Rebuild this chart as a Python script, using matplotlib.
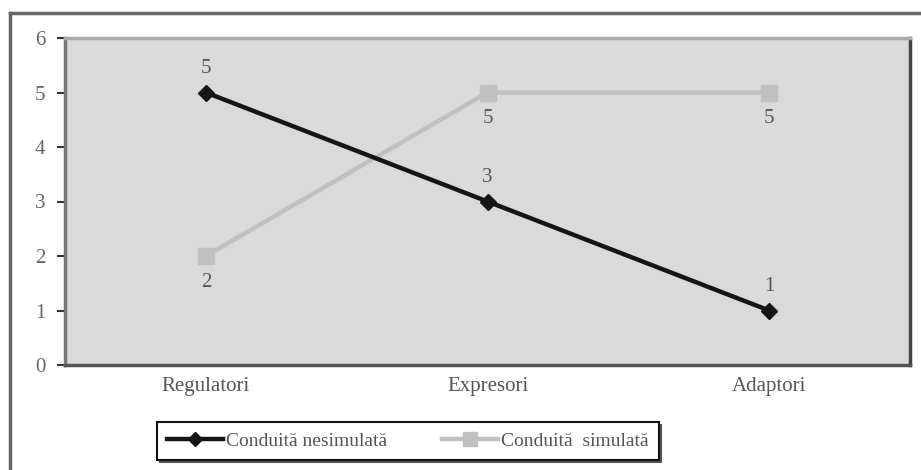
import matplotlib.pyplot as plt
from matplotlib.lines import Line2D

categories = ["Regulatori", "Expresori", "Adaptori"]
nesimulata = [5, 3, 1]
simulata = [2, 5, 5]
series_names = ["Conduită nesimulată", "Conduită  simulată"]
yticks = [0, 1, 2, 3, 4, 5, 6]

plt.rcParams['font.family'] = ['Liberation Serif', 'DejaVu Serif']

W, H = 921, 470
fig = plt.figure(figsize=(W / 100, H / 100), dpi=100)
ax = fig.add_axes([65 / W, 1 - 365 / H, (910 - 65) / W, (365 - 38) / H])
ax.set_facecolor('#dadada')

x = list(range(len(categories)))
ax.plot(x, simulata, color='#c0c0c0', lw=3.2, marker='s', ms=12, zorder=3)
ax.plot(x, nesimulata, color='#151515', lw=3.2, marker='D', ms=8, zorder=4)

for xi, v in zip(x, nesimulata):
    ax.annotate(str(v), (xi, v), xytext=(0, 17), textcoords='offset points',
                ha='center', va='center', fontsize=15, color='#555555')
for xi, v in zip(x, simulata):
    ax.annotate(str(v), (xi, v), xytext=(0, -19), textcoords='offset points',
                ha='center', va='center', fontsize=15, color='#555555')

ax.set_xlim(-0.5, 2.5)
ax.set_ylim(0, 6)
ax.set_yticks(yticks)
ax.set_xticks(x)
ax.set_xticklabels(categories)
ax.tick_params(axis='y', direction='out', length=6, width=1.5, color='#333333',
               labelsize=15, labelcolor='#666666', pad=8)
ax.tick_params(axis='x', length=0, labelsize=15, labelcolor='#555555', pad=9)

ax.spines['left'].set_color('#777777')
ax.spines['left'].set_linewidth(2.5)
ax.spines['bottom'].set_color('#555555')
ax.spines['bottom'].set_linewidth(2.5)
ax.spines['top'].set_color('#aaaaaa')
ax.spines['top'].set_linewidth(2.5)
ax.spines['right'].set_color('#444444')
ax.spines['right'].set_linewidth(2.5)

# outer frame of the picture
fig.add_artist(Line2D([10 / W, 1.0], [1 - 13 / H, 1 - 13 / H], color='#666666', lw=2.5))
fig.add_artist(Line2D([10 / W, 10 / W], [0, 1 - 13 / H], color='#666666', lw=2.5))

handles = [Line2D([], [], color='#151515', lw=3.2, marker='D', ms=7),
           Line2D([], [], color='#c0c0c0', lw=3.2, marker='s', ms=10)]
leg = fig.legend(handles, series_names, loc='center', ncol=2,
                 bbox_to_anchor=(408 / W, 1 - 441 / H),
                 fancybox=False, shadow={'color': '#555555', 'alpha': 1},
                 fontsize=14, handlelength=2.9, handletextpad=0.15,
                 columnspacing=2.8, borderaxespad=0, borderpad=0.5)
leg.get_frame().set_edgecolor('#111111')
leg.get_frame().set_linewidth(1.5)
for t in leg.get_texts():
    t.set_color('#555555')

fig.savefig('out.png', dpi=100)
